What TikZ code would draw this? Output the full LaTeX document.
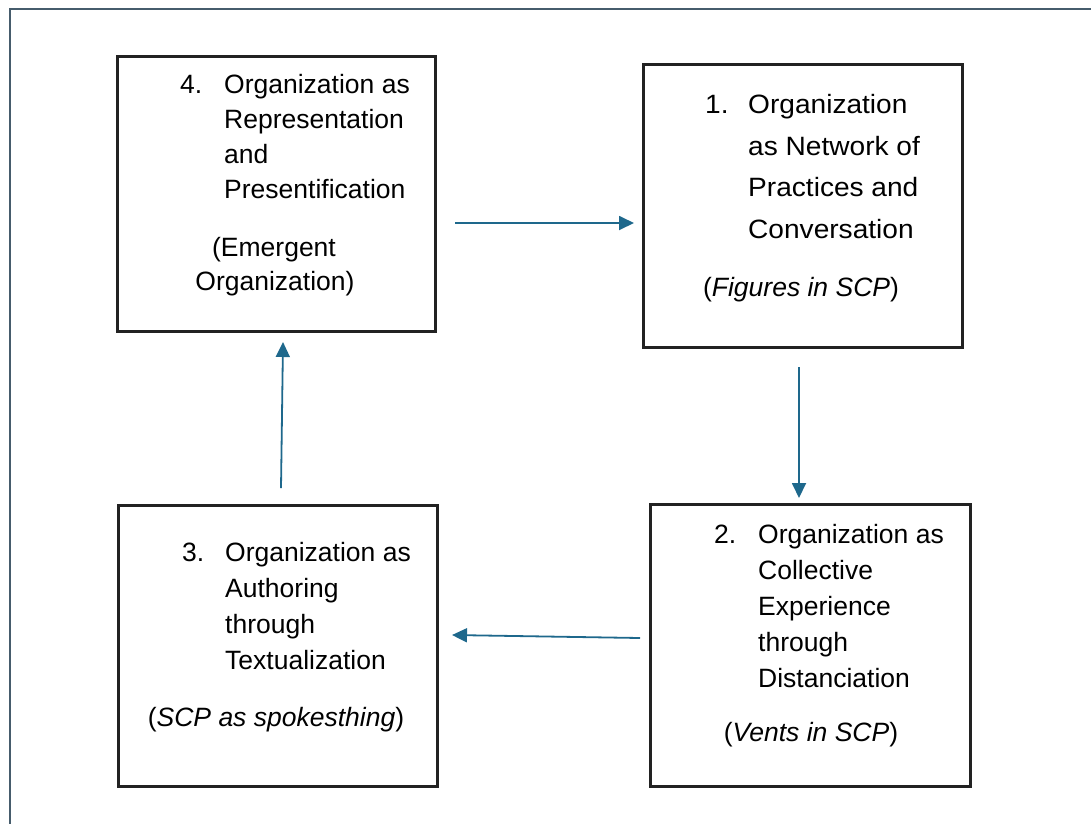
\documentclass[tikz,border=0pt]{standalone}
\usepackage{fontspec}
\setmainfont{Liberation Sans}
\newfontfamily\widefont[FakeStretch=1.06]{Liberation Sans}
\usetikzlibrary{arrows.meta}
\definecolor{arrowblue}{RGB}{30,104,140}
\definecolor{framegray}{RGB}{70,92,108}
\definecolor{boxline}{RGB}{34,34,34}
\tikzset{
  box/.style={draw=boxline, line width=2.6pt},
  txt/.style={inner sep=0pt, anchor=base west, font=\fontsize{26.5}{35}\selectfont},
  wtxt/.style={inner sep=0pt, anchor=base west, font=\fontsize{26.5}{35}\selectfont\widefont},
  ctxt/.style={inner sep=0pt, anchor=base, font=\fontsize{26.5}{35}\selectfont},
  arr/.style={draw=arrowblue, line width=1.8pt, -{Triangle[length=15pt,width=14pt]}, fill=arrowblue}
}
\begin{document}
\begin{tikzpicture}[x=1pt,y=-1pt]
\useasboundingbox (0,0) rectangle (1091,823);
% outer frame
\draw[framegray, line width=2.5pt] (10,830) -- (10,9) -- (1100,9);
% boxes
\node[box, minimum width=318pt, minimum height=275pt, anchor=north west, inner sep=0pt] (b4) at (116,55) {};
\node[box, minimum width=319pt, minimum height=283pt, anchor=north west, inner sep=0pt] (b1) at (642,63) {};
\node[box, minimum width=320pt, minimum height=282pt, anchor=north west, inner sep=0pt] (b2) at (649,503) {};
\node[box, minimum width=319pt, minimum height=281pt, anchor=north west, inner sep=0pt] (b3) at (117,504) {};
% box 4
\node[txt] (n4) at (180,93) {4.};
\node[txt] (t4a) at (224,93) {Organization as};
\node[txt] (t4b) at (224,128) {Representation};
\node[txt] (t4c) at (224,163) {and};
\node[txt] (t4d) at (224,198) {Presentification};
\node[ctxt] (p4a) at (274,256) {(Emergent};
\node[ctxt] (p4b) at (275,290) {Organization)};
% box 1
\node[wtxt] (n1) at (705,113) {1.};
\node[wtxt] (t1a) at (748,113) {Organization};
\node[wtxt] (t1b) at (748,155) {as Network of};
\node[wtxt] (t1c) at (748,196) {Practices and};
\node[wtxt] (t1d) at (748,238) {Conversation};
\node[ctxt] (p1) at (801,296) {(\textit{Figures in SCP})};
% box 2
\node[txt] (n2) at (714,543) {2.};
\node[txt] (t2a) at (758,543) {Organization as};
\node[txt] (t2b) at (758,579) {Collective};
\node[txt] (t2c) at (758,615) {Experience};
\node[txt] (t2d) at (758,651) {through};
\node[txt] (t2e) at (758,687) {Distanciation};
\node[ctxt] (p2) at (811,741) {(\textit{Vents in SCP})};
% box 3
\node[txt] (n3) at (182,561) {3.};
\node[txt] (t3a) at (225,561) {Organization as};
\node[txt] (t3b) at (225,597) {Authoring};
\node[txt] (t3c) at (225,633) {through};
\node[txt] (t3d) at (225,669) {Textualization};
\node[ctxt] (p3) at (276,726) {(\textit{SCP as spokesthing})};
% arrows
\coordinate (a1s) at (455,223);
\coordinate (a1e) at (634,223);
\coordinate (a2s) at (799,367);
\coordinate (a2e) at (799,498);
\coordinate (a3s) at (640,638);
\coordinate (a3e) at (452,635);
\coordinate (a4s) at (281,488);
\coordinate (a4e) at (283,342);
\draw[arr] (a1s) -- (a1e);
\draw[arr] (a2s) -- (a2e);
\draw[arr] (a3s) -- (a3e);
\draw[arr] (a4s) -- (a4e);
\end{tikzpicture}
\end{document}
